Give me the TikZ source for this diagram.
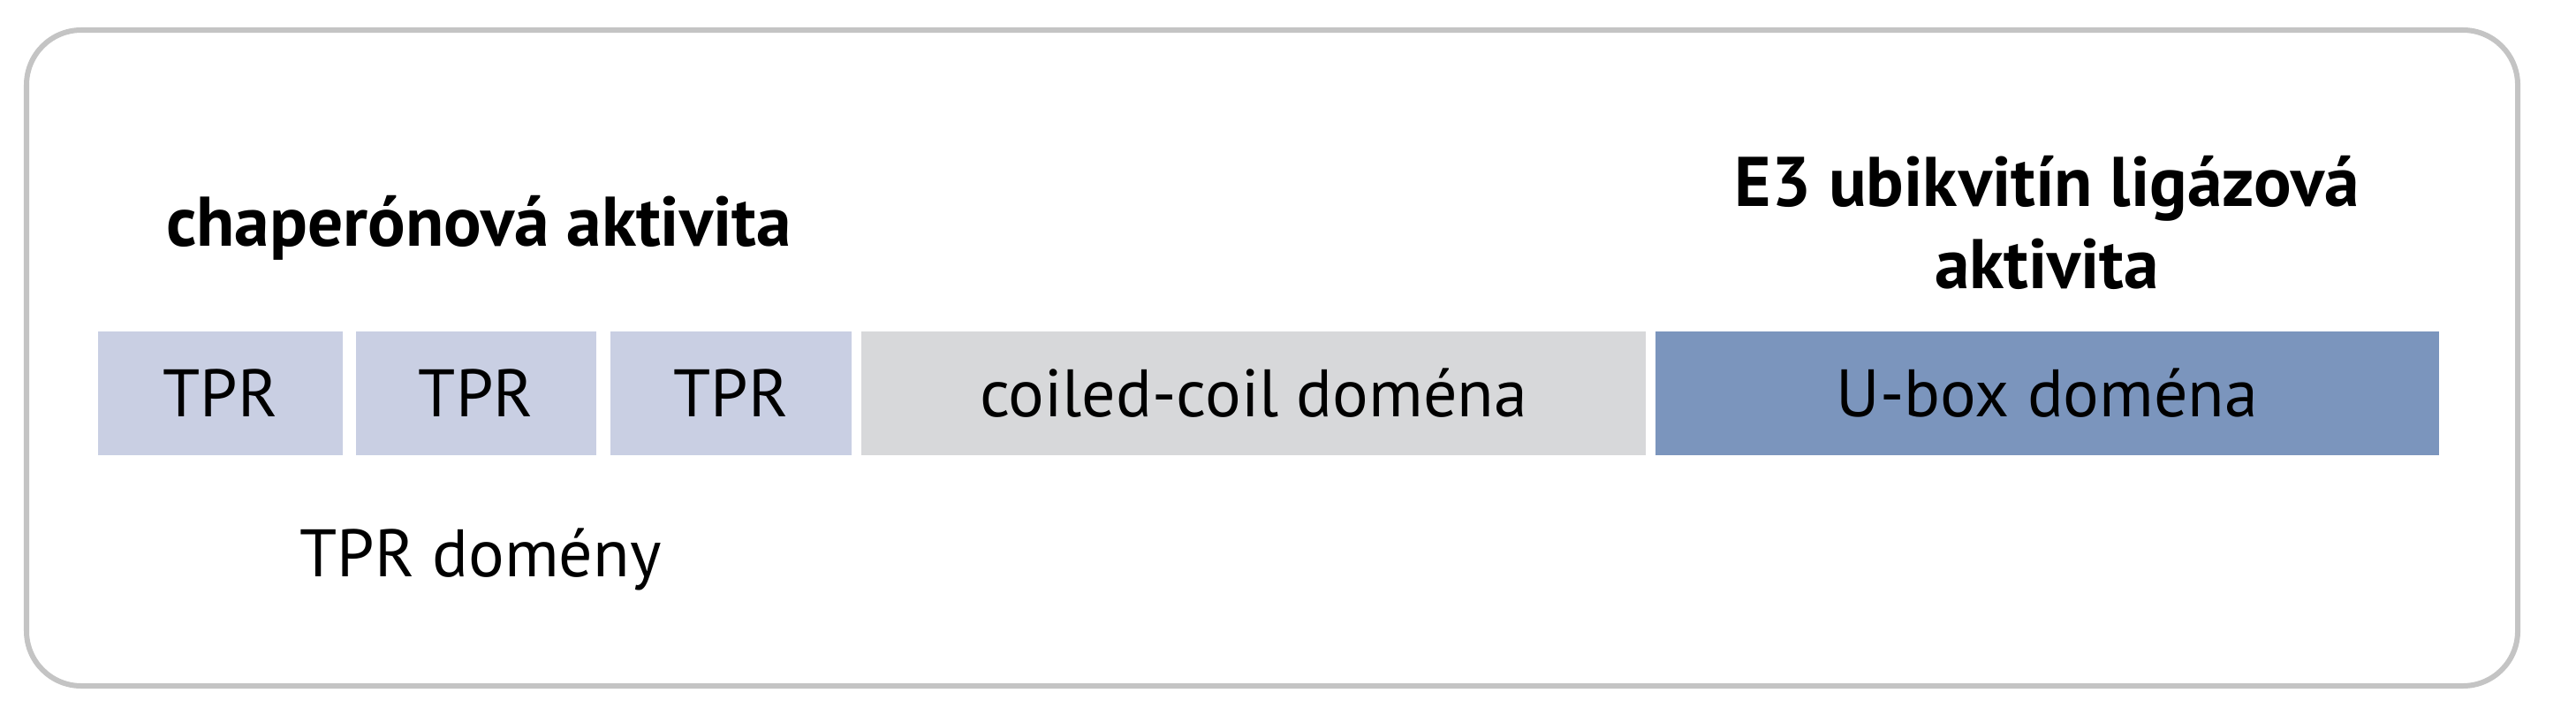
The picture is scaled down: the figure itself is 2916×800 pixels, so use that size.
\documentclass[tikz,border=0pt]{standalone}
\usepackage{fontspec}
\setmainfont{PT Sans}
\definecolor{tprcol}{HTML}{C9CFE3}
\definecolor{coilcol}{HTML}{D7D8DA}
\definecolor{uboxcol}{HTML}{7B95BD}
\definecolor{framecol}{HTML}{C4C4C4}
\tikzset{
  dombox/.style={anchor=west,inner sep=0pt,minimum height=1.4cm,font=\fontsize{21.6}{26}\selectfont},
  tprbox/.style={dombox,fill=tprcol},
  labeltext/.style={font=\fontsize{21.6}{26}\selectfont,inner sep=0pt},
  headtext/.style={font=\fontsize{22.6}{26.2}\selectfont\bfseries,inner sep=0pt},
}
\begin{document}
\begin{tikzpicture}[x=0.01cm,y=-0.01cm]
\useasboundingbox (0,0) rectangle (2916,800);
\draw[framecol,line width=0.06cm,rounded corners=0.62cm] (30,34) rectangle (2850,776);
\node[tprbox,minimum width=2.77cm] (tpr1) at (110,445) {TPR};
\node[tprbox,minimum width=2.72cm] (tpr2) at (402,445) {TPR};
\node[tprbox,minimum width=2.73cm] (tpr3) at (690,445) {TPR};
\node[dombox,fill=coilcol,minimum width=8.88cm] (coil) at (974,445) {coiled-coil doména};
\node[dombox,fill=uboxcol,minimum width=8.87cm] (ubox) at (1873,445) {U-box doména};
\node[headtext,anchor=base] (chap) at (542,278) {chaperónová aktivita};
\node[headtext,anchor=base,align=center] (ligase) at (2317,326) {E3 ubikvitín ligázová\\aktivita};
\node[labeltext,anchor=base] (tprdom) at (544,652) {TPR domény};
\end{tikzpicture}
\end{document}
